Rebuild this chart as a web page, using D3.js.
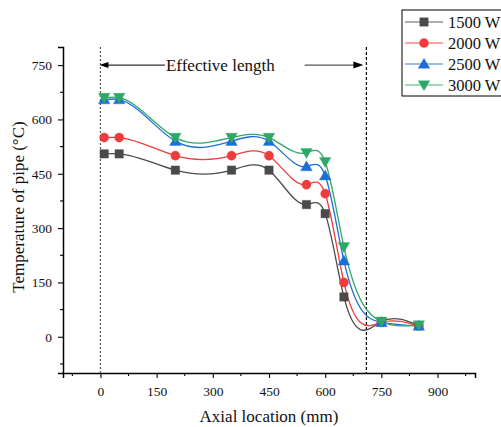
<!DOCTYPE html>
<html>
<head>
<meta charset="utf-8">
<script src="https://cdn.jsdelivr.net/npm/d3@7"></script>
<style>
  html, body { margin: 0; padding: 0; background: #fff; }
  svg { display: block; }
  text { font-family: "Liberation Serif", "Times New Roman", serif; fill: #111; }
</style>
</head>
<body>
<svg id="chart" width="501" height="427"></svg>
<script>
// Axial positions along the pipe (mm)
const locations = [10, 50, 200, 350, 450, 550, 600, 650, 750, 850];

// Pipe temperature (°C) for each heater power
const temp1500 = [505, 505, 460, 460, 460, 365, 340, 110, 42, 31];
const temp2000 = [550, 550, 500, 500, 500, 420, 395, 150, 40, 30];
const temp2500 = [655, 655, 540, 540, 540, 470, 445, 210, 40, 30];
const temp3000 = [660, 660, 550, 550, 550, 508, 483, 248, 42, 32];

const seriesNames = ["1500 W", "2000 W", "2500 W", "3000 W"];
const seriesColors = ["#4a4a4a", "#ee3b3b", "#1c6fd8", "#2ea866"];
const seriesSymbols = ["square", "circle", "triangle", "triangleDown"];

const xTicks = [0, 150, 300, 450, 600, 750, 900];
const yTicks = [0, 150, 300, 450, 600, 750];

// Heated (effective) zone boundaries and its label
const effectiveZone = [0, 710];
const effectiveLabel = "Effective length";

const svg = d3.select("#chart");

const x = d3.scaleLinear().domain([-100, 1000]).range([63, 475]);
const y = d3.scaleLinear().domain([-100, 800]).range([373, 47]);

// Natural cubic spline in y(x), emitted as Bézier segments
function CurveSplineX(context) { this._context = context; }
CurveSplineX.prototype = {
  areaStart() { this._line = 0; },
  areaEnd() { this._line = NaN; },
  lineStart() { this._x = []; this._y = []; },
  point(px, py) { this._x.push(+px); this._y.push(+py); },
  lineEnd() {
    const X = this._x, Y = this._y, n = X.length;
    const ctx = this._context;
    if (!n) return;
    ctx.moveTo(X[0], Y[0]);
    if (n === 2) { ctx.lineTo(X[1], Y[1]); return; }
    const h = [], M = new Array(n).fill(0);
    for (let i = 0; i < n - 1; i++) h.push(X[i + 1] - X[i]);
    // tridiagonal system for second derivatives (natural ends)
    const a = [], b = [], c = [], r = [];
    for (let i = 1; i < n - 1; i++) {
      a.push(h[i - 1]);
      b.push(2 * (h[i - 1] + h[i]));
      c.push(h[i]);
      r.push(6 * ((Y[i + 1] - Y[i]) / h[i] - (Y[i] - Y[i - 1]) / h[i - 1]));
    }
    const m = b.length;
    for (let i = 1; i < m; i++) {
      const w = a[i] / b[i - 1];
      b[i] -= w * c[i - 1];
      r[i] -= w * r[i - 1];
    }
    const sol = new Array(m);
    sol[m - 1] = r[m - 1] / b[m - 1];
    for (let i = m - 2; i >= 0; i--) sol[i] = (r[i] - c[i] * sol[i + 1]) / b[i];
    for (let i = 0; i < m; i++) M[i + 1] = sol[i];
    for (let i = 0; i < n - 1; i++) {
      const hi = h[i], s = (Y[i + 1] - Y[i]) / hi;
      const d0 = s - hi * (2 * M[i] + M[i + 1]) / 6;
      const d1 = s + hi * (M[i] + 2 * M[i + 1]) / 6;
      ctx.bezierCurveTo(
        X[i] + hi / 3, Y[i] + d0 * hi / 3,
        X[i + 1] - hi / 3, Y[i + 1] - d1 * hi / 3,
        X[i + 1], Y[i + 1]
      );
    }
  }
};
const curveSplineX = ctx => new CurveSplineX(ctx);

const symbolTypes = {
  square: d3.symbolSquare,
  circle: d3.symbolCircle,
  triangle: d3.symbolTriangle,
  triangleDown: d3.symbolTriangle
};
const symbolSizes = { square: 72, circle: 66, triangle: 58, triangleDown: 58 };

function drawSymbol(g, kind, color, cx, cy) {
  const sym = d3.symbol().type(symbolTypes[kind]).size(symbolSizes[kind]);
  const rot = kind === "triangleDown" ? " rotate(180)" : "";
  const dy = kind === "triangle" ? 1 : kind === "triangleDown" ? -1 : 0;
  g.append("path")
    .attr("d", sym())
    .attr("transform", `translate(${cx},${cy + dy})${rot}`)
    .attr("fill", color)
    .attr("stroke", color)
    .attr("stroke-opacity", 0.35)
    .attr("stroke-width", 1);
}

// Axes
const xAxis = d3.axisBottom(x).tickValues(xTicks).tickSize(5).tickPadding(8).tickFormat(d3.format("d"));
const yAxis = d3.axisLeft(y).tickValues(yTicks).tickSize(5).tickPadding(6).tickFormat(d3.format("d"));

const gx = svg.append("g").attr("transform", `translate(0,${y(-100)})`).call(xAxis);
const gy = svg.append("g").attr("transform", `translate(${x(-100)},0)`).call(yAxis);

[gx, gy].forEach(g => {
  g.select(".domain").attr("stroke", "#000").attr("stroke-width", 1.5);
  g.selectAll(".tick line").attr("stroke", "#000").attr("stroke-width", 1.1);
  g.selectAll(".tick text")
    .style("font-family", '"Liberation Serif", "Times New Roman", serif')
    .style("font-size", "13.5px")
    .attr("fill", "#111");
});

// Minor ticks
const xMinor = d3.range(-75, 1000, 150);
const yMinor = d3.range(-75, 800, 150);
gx.selectAll(".minor").data(xMinor).join("line")
  .attr("x1", d => x(d)).attr("x2", d => x(d))
  .attr("y1", 0).attr("y2", 3)
  .attr("stroke", "#000").attr("stroke-width", 1.1);
gy.selectAll(".minor").data(yMinor).join("line")
  .attr("y1", d => y(d)).attr("y2", d => y(d))
  .attr("x1", 0).attr("x2", -3)
  .attr("stroke", "#000").attr("stroke-width", 1.1);

// Axis titles
svg.append("text")
  .attr("x", (x.range()[0] + x.range()[1]) / 2)
  .attr("y", 422)
  .attr("text-anchor", "middle")
  .style("font-size", "17px")
  .text("Axial location (mm)");

svg.append("text")
  .attr("transform", `translate(24,${207}) rotate(-90)`)
  .attr("text-anchor", "middle")
  .style("font-size", "17px")
  .text("Temperature of pipe (°C)");

// Effective-zone boundaries
svg.append("line")
  .attr("x1", x(effectiveZone[0])).attr("x2", x(effectiveZone[0]))
  .attr("y1", y(800)).attr("y2", y(-100))
  .attr("stroke", "#555").attr("stroke-width", 1.2)
  .attr("stroke-dasharray", "2,2");
svg.append("line")
  .attr("x1", x(effectiveZone[1])).attr("x2", x(effectiveZone[1]))
  .attr("y1", y(800)).attr("y2", y(-100))
  .attr("stroke", "#000").attr("stroke-width", 1.2)
  .attr("stroke-dasharray", "3,2");

// Double-headed annotation arrow
const arrowY = y(750);
const label = svg.append("text")
  .attr("x", x(320))
  .attr("y", arrowY + 6)
  .attr("text-anchor", "middle")
  .style("font-size", "17px")
  .text(effectiveLabel);
const labelW = label.node().getComputedTextLength();
const labelL = x(320) - labelW / 2;
const labelR = x(320) + labelW / 2;

svg.append("line")
  .attr("x1", x(effectiveZone[0]) + 6).attr("x2", labelL - 1)
  .attr("y1", arrowY).attr("y2", arrowY)
  .attr("stroke", "#333").attr("stroke-width", 1.3);
svg.append("line")
  .attr("x1", labelR + 30).attr("x2", x(effectiveZone[1]) - 8)
  .attr("y1", arrowY).attr("y2", arrowY)
  .attr("stroke", "#555").attr("stroke-width", 1.3);
const headL = x(effectiveZone[0]) - 1, headR = x(effectiveZone[1]) - 3;
svg.append("path")
  .attr("d", `M${headL},${arrowY} L${headL + 9},${arrowY - 3} L${headL + 9},${arrowY + 3} Z`)
  .attr("fill", "#000");
svg.append("path")
  .attr("d", `M${headR},${arrowY} L${headR - 10},${arrowY - 3.5} L${headR - 10},${arrowY + 3.5} Z`)
  .attr("fill", "#000");

// Series
const allSeries = [temp1500, temp2000, temp2500, temp3000];
const line = d3.line().x((d, i) => x(locations[i])).y(d => y(d)).curve(curveSplineX);

const plot = svg.append("g");
allSeries.forEach((vals, k) => {
  plot.append("path")
    .datum(vals)
    .attr("d", line)
    .attr("fill", "none")
    .attr("stroke", seriesColors[k])
    .attr("stroke-width", 1.3);
});
allSeries.forEach((vals, k) => {
  const g = plot.append("g");
  vals.forEach((v, i) => drawSymbol(g, seriesSymbols[k], seriesColors[k], x(locations[i]), y(v)));
});

// Legend
const legend = svg.append("g").attr("transform", "translate(402,10)");
legend.append("rect")
  .attr("x", 0).attr("y", 0).attr("width", 120).attr("height", 86)
  .attr("fill", "#fff").attr("stroke", "#000").attr("stroke-width", 1);
seriesNames.forEach((name, k) => {
  const cy = 12 + k * 21;
  legend.append("line")
    .attr("x1", 3).attr("x2", 41).attr("y1", cy).attr("y2", cy)
    .attr("stroke", seriesColors[k]).attr("stroke-opacity", 0.6).attr("stroke-width", 1.6);
  drawSymbol(legend, seriesSymbols[k], seriesColors[k], 22, cy);
  legend.append("text")
    .attr("x", 46).attr("y", cy + 5.5)
    .style("font-size", "16.5px")
    .text(name);
});
</script>
</body>
</html>
